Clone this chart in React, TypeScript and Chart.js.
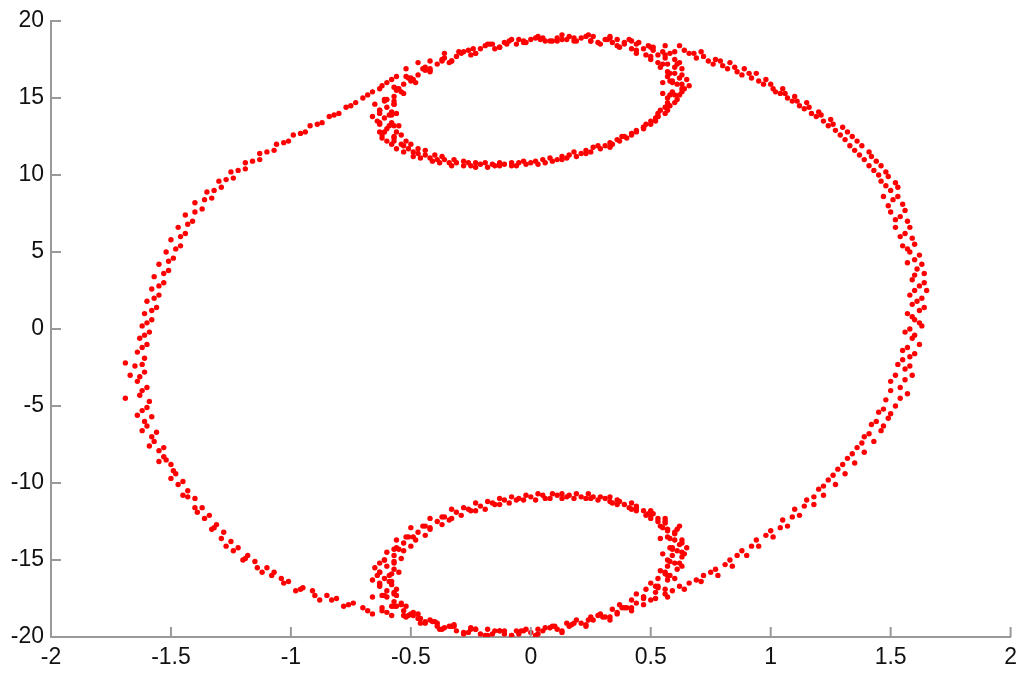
import React, { useEffect, useRef } from "react";
import { Chart, registerables } from "chart.js";

Chart.register(...registerables);

const xTicks = [-2, -1.5, -1, -0.5, 0, 0.5, 1, 1.5, 2];
const yTicks = [-20, -15, -10, -5, 0, 5, 10, 15, 20];

const outerRing: [number, number][] = [
  [-0.52,16.9],[-0.47,17.3],[-0.42,17.4],[-0.36,17.9],[-0.30,18.0],[-0.24,18.2],[-0.17,18.5],[-0.10,18.5],[-0.03,18.7],[0.04,18.8],[0.11,18.7],[0.18,18.9],[0.25,18.7],[0.32,18.8],[0.39,18.5],[0.45,18.6],[0.51,18.3],[0.56,18.4],
  [0.60,18.0],[0.62,18.4],[0.66,17.9],[0.69,17.6],[0.71,18.0],[0.74,17.4],[0.77,17.5],[0.80,17.1],[0.83,17.3],[0.86,16.7],[0.89,16.9],[0.92,16.3],[0.94,16.6],[0.97,15.9],[1.00,15.9],[1.02,15.4],[1.05,15.6],[1.07,15.0],[1.10,15.1],[1.12,14.5],[1.15,14.7],[1.17,14.0],[1.20,14.1],[1.22,13.5],[1.25,13.6],[1.27,12.9],[1.30,13.1],[1.31,12.3],[1.34,12.5],[1.35,11.6],[1.38,11.9],[1.39,11.0],[1.42,11.2],[1.43,10.3],[1.46,10.6],[1.46,9.6],[1.49,9.9],[1.50,9.0],[1.53,9.2],
  [1.47,8.6],[1.51,8.4],[1.55,8.1],[1.50,7.6],[1.54,7.3],[1.57,7.0],[1.52,6.6],[1.56,6.2],[1.59,5.9],[1.55,5.4],[1.58,5.0],[1.62,4.8],[1.57,4.3],[1.61,3.9],[1.64,3.6],[1.59,3.2],[1.62,2.8],[1.65,2.5],[1.58,2.2],[1.61,1.8],[1.64,1.4],[1.57,1.0],[1.60,0.6],[1.63,0.2],[1.56,-0.2],[1.59,-0.6],[1.62,-1.0],[1.55,-1.4],[1.58,-1.8],[1.53,-2.3],[1.56,-2.6],[1.59,-3.0],[1.50,-3.4],[1.54,-3.8],[1.57,-4.2],[1.48,-4.6],[1.52,-5.0],[1.45,-5.4],[1.49,-5.8],[1.42,-6.2],[1.46,-6.6],[1.39,-7.0],[1.43,-7.3],
  [1.36,-7.7],[1.39,-8.0],[1.32,-8.4],[1.35,-8.7],[1.28,-9.1],[1.31,-9.4],[1.24,-9.8],[1.27,-10.1],[1.20,-10.4],[1.22,-10.8],[1.15,-11.1],[1.18,-11.4],[1.10,-11.7],[1.12,-12.1],[1.05,-12.4],[1.07,-12.8],[1.00,-13.1],[1.01,-13.5],[0.94,-13.7],[0.95,-14.1],[0.88,-14.4],[0.90,-14.7],[0.83,-15.0],[0.84,-15.4],[0.77,-15.6],[0.78,-16.0],[0.72,-16.0],[0.71,-16.4],[0.66,-16.5],[0.64,-16.9],[0.59,-17.0],[0.57,-17.4],[0.52,-17.5],
  [0.47,-17.9],[0.42,-18.1],[0.36,-18.5],[0.30,-18.7],[0.24,-18.9],[0.17,-19.2],[0.10,-19.3],[0.03,-19.5],[-0.04,-19.6],[-0.11,-19.6],[-0.18,-19.5],[-0.25,-19.4],[-0.32,-19.2],[-0.39,-19.1],[-0.46,-18.8],[-0.52,-18.7],
  [-0.58,-18.6],[-0.62,-18.3],[-0.66,-18.5],[-0.70,-18.1],[-0.74,-17.8],[-0.78,-18.0],[-0.81,-17.5],[-0.85,-17.3],[-0.88,-17.6],[-0.91,-17.0],[-0.95,-16.8],[-0.98,-17.0],[-1.01,-16.4],[-1.04,-16.2],[-1.07,-15.8],[-1.10,-15.5],[-1.12,-15.8],[-1.15,-15.1],[-1.18,-14.7],[-1.20,-15.0],[-1.22,-14.2],[-1.25,-13.8],[-1.27,-14.1],[-1.28,-13.2],[-1.31,-12.7],[-1.33,-13.0],[-1.34,-12.1],[-1.37,-11.6],[-1.39,-11.9],[-1.40,-11.0],[-1.43,-10.5],[-1.45,-10.8],[-1.45,-9.9],[-1.48,-9.4],[-1.50,-9.7],[-1.50,-8.8],[-1.53,-8.3],[-1.55,-8.6],[-1.53,-7.7],[-1.57,-7.3],[-1.59,-7.6],[-1.56,-6.7],[-1.60,-6.3],[-1.62,-6.6],[-1.58,-5.7],[-1.62,-5.3],[-1.64,-5.6],[-1.59,-4.7],[-1.63,-4.3],[-1.69,-4.5],[-1.60,-3.8],[-1.64,-3.4],[-1.67,-3.0],[-1.61,-2.8],[-1.65,-2.4],[-1.69,-2.2],[-1.61,-1.9],[-1.64,-1.5],[-1.60,-1.0],[-1.63,-0.6],
  [-1.59,-0.2],[-1.62,0.2],[-1.58,0.6],[-1.61,1.0],[-1.56,1.4],[-1.60,1.8],[-1.55,2.2],[-1.58,2.6],[-1.53,3.0],[-1.57,3.4],[-1.51,3.8],[-1.55,4.2],[-1.49,4.6],[-1.52,5.0],[-1.46,5.4],[-1.50,5.8],[-1.44,6.2],[-1.47,6.6],[-1.41,7.0],[-1.44,7.4],[-1.37,7.8],[-1.40,8.2],[-1.33,8.5],[-1.35,8.9],[-1.29,9.2],[-1.30,9.6],[-1.24,9.8],[-1.25,10.2],[-1.19,10.4],[-1.19,10.8],[-1.13,11.0],[-1.13,11.4],[-1.07,11.6],[-1.06,12.0],[-1.01,12.2],[-0.99,12.6],[-0.94,12.8],[-0.92,13.2],[-0.87,13.4],[-0.84,13.8],[-0.80,14.0],[-0.77,14.4],[-0.73,14.7],[-0.70,15.0],[-0.66,15.4],[-0.63,15.6],[-0.60,16.0],[-0.56,16.4],
];

const outerRingExtra: [number, number][] = [
  [0.64,18.1],[0.68,17.9],[0.72,17.7],[0.76,17.2],[0.79,17.4],[0.82,16.9],[0.85,17.0],[0.88,16.5],[0.91,16.6],[0.95,16.1],[0.98,16.2],[1.01,15.6],[1.04,15.3],[1.06,15.3],[1.09,14.8],[1.11,14.8],[1.14,14.3],[1.16,14.4],[1.19,13.8],[1.21,13.9],[1.24,13.2],[1.26,13.3],[1.29,12.6],[1.32,12.8],[1.33,11.9],[1.36,12.2],[1.37,11.3],[1.41,11.5],[1.41,10.6],[1.44,10.9],[1.45,10.0],[1.48,10.2],[1.48,9.3],[1.52,9.5],
  [1.53,8.6],[1.49,8.0],[1.56,7.7],[1.52,7.1],[1.58,6.6],[1.54,6.0],[1.60,5.5],[1.57,5.2],[1.60,4.5],[1.63,4.2],[1.60,3.5],[1.64,3.0],[1.60,2.5],[1.63,2.0],[1.59,1.6],[1.62,1.2],[1.59,0.8],[1.62,0.4],[1.58,0.0],[1.60,-0.4],[1.57,-1.2],[1.60,-1.6],[1.55,-2.0],[1.58,-2.4],[1.52,-3.0],[1.56,-3.3],[1.50,-4.0],[1.54,-4.5],[1.47,-5.2],[1.50,-5.5],[1.44,-6.0],[1.47,-6.3],[1.41,-6.8],
  [1.38,-7.4],[1.34,-8.1],[1.30,-8.8],[1.26,-9.5],[1.22,-10.2],[1.18,-10.9],[1.14,-11.5],[1.09,-12.2],[1.04,-12.9],[0.98,-13.4],[0.92,-14.1],[0.86,-14.7],[0.81,-15.3],[0.75,-15.8],[0.69,-16.3],[0.62,-16.7],[0.56,-17.2],
  [-0.60,-18.4],[-0.68,-18.3],[-0.76,-17.9],[-0.83,-17.6],[-0.90,-17.3],[-0.96,-16.9],[-1.03,-16.5],[-1.08,-16.0],[-1.14,-15.5],[-1.19,-14.9],[-1.24,-14.4],[-1.29,-13.6],[-1.32,-12.9],[-1.36,-12.3],[-1.40,-11.6],[-1.43,-10.9],[-1.47,-10.1],[-1.49,-9.2],[-1.52,-8.5],[-1.55,-7.9],[-1.58,-7.0],[-1.61,-6.0],[-1.60,-5.1],[-1.62,-4.0],[-1.63,-3.1],[-1.62,-2.3],[-1.62,-1.2],
  [-1.61,-0.4],[-1.60,0.4],[-1.58,1.2],[-1.57,2.0],[-1.55,2.8],[-1.53,3.6],[-1.51,4.4],[-1.48,5.2],[-1.46,6.0],[-1.43,6.8],[-1.40,7.6],[-1.36,8.4],[-1.32,9.0],[-1.27,9.7],[-1.22,10.3],[-1.16,10.9],[-1.10,11.5],[-1.03,12.1],[-0.96,12.7],[-0.89,13.3],[-0.82,13.9],[-0.75,14.5],[-0.68,15.2],[-0.62,15.8],[-0.58,16.2],
];

const topLoop: [number, number][] = [
  [0.61,15.9],[0.58,16.1],[0.64,15.6],[0.60,16.6],[0.57,16.4],[0.63,16.9],[0.57,17.2],[0.54,17.0],[0.60,17.5],[0.53,17.8],[0.50,17.5],[0.55,18.0],
  [0.47,18.2],[0.44,17.9],[0.49,18.4],[0.39,18.6],[0.37,18.3],[0.41,18.8],[0.31,18.8],[0.29,18.5],[0.33,19.0],[0.21,18.9],[0.19,18.7],[0.23,19.0],
  [0.11,18.9],[0.09,18.7],[0.13,18.8],[0.00,18.8],[-0.02,18.6],[0.02,18.9],[-0.11,18.6],[-0.13,18.3],[-0.09,18.7],[-0.21,18.2],[-0.23,17.9],[-0.19,18.4],
  [-0.31,17.7],[-0.33,17.4],[-0.29,17.9],[-0.39,17.2],[-0.42,16.9],[-0.37,17.4],[-0.47,16.5],[-0.50,16.3],[-0.44,16.8],[-0.53,15.9],[-0.56,15.6],[-0.50,16.1],
  [-0.57,15.1],[-0.60,14.9],[-0.54,15.4],[-0.60,14.4],[-0.63,14.2],[-0.57,14.6],[-0.61,13.7],[-0.64,13.5],[-0.58,13.9],[-0.60,13.0],[-0.63,12.8],[-0.57,13.2],
  [-0.57,12.4],[-0.60,12.2],[-0.54,12.6],[-0.53,11.9],[-0.56,11.7],[-0.50,12.0],[-0.47,11.4],[-0.49,11.2],[-0.44,11.6],[-0.39,11.0],[-0.41,10.9],[-0.37,11.2],
  [-0.31,10.8],[-0.33,10.6],[-0.28,10.9],[-0.21,10.7],[-0.23,10.5],[-0.19,10.8],[-0.11,10.7],[-0.13,10.6],[-0.08,10.8],[0.00,10.8],[-0.02,10.7],[0.02,10.9],
  [0.11,11.0],[0.09,10.9],[0.13,11.2],[0.21,11.4],[0.19,11.2],[0.23,11.6],[0.31,11.9],[0.29,11.7],[0.33,12.1],[0.39,12.5],[0.37,12.2],[0.42,12.7],
  [0.47,13.1],[0.44,12.8],[0.50,13.3],[0.53,13.8],[0.50,13.5],[0.56,14.0],[0.57,14.5],[0.54,14.2],[0.60,14.7],[0.60,15.2],[0.57,15.0],[0.63,15.4],
  [0.62,16.3],[0.59,16.1],[0.60,17.0],[0.57,16.7],[0.56,17.6],[0.53,17.3],[0.51,18.1],[0.48,17.8],[0.44,18.5],[0.42,18.2],[0.36,18.8],[0.34,18.6],
  [0.26,19.0],[0.25,18.7],[0.16,19.0],[0.15,18.8],[0.05,18.9],[0.06,18.7],[-0.05,18.8],[-0.06,18.5],[-0.16,18.5],[-0.15,18.2],[-0.26,18.1],[-0.25,17.8],
  [-0.36,17.6],[-0.34,17.3],[-0.44,17.0],[-0.42,16.7],[-0.52,16.4],[-0.48,16.0],[-0.57,15.7],[-0.53,15.3],[-0.61,14.9],[-0.57,14.6],[-0.63,14.2],[-0.59,13.9],
  [-0.63,13.4],[-0.59,13.2],[-0.61,12.8],[-0.57,12.5],[-0.57,12.2],[-0.54,12.0],[-0.51,11.7],[-0.49,11.5],[-0.44,11.3],[-0.42,11.1],[-0.36,11.0],[-0.34,10.8],
  [-0.26,10.8],[-0.25,10.6],[-0.16,10.7],[-0.15,10.6],[-0.05,10.8],[-0.06,10.6],[0.05,11.0],[0.06,10.8],[0.16,11.3],[0.15,11.1],[0.26,11.8],[0.25,11.5],
  [0.36,12.3],[0.34,12.0],[0.44,12.9],[0.42,12.6],[0.52,13.5],[0.48,13.3],[0.57,14.2],[0.53,14.0],[0.61,14.9],[0.57,14.7],[0.63,15.6],[0.59,15.4],
  [0.65,16.2],[0.66,15.8],[0.55,16.0],[0.55,15.3],[0.62,17.3],[0.58,17.9],[-0.65,14.6],[-0.66,13.8],[-0.55,13.2],[-0.56,14.0],[-0.62,12.4],
];

const topLoopExtra: [number, number][] = [
  [0.59,16.0],[0.63,16.5],[0.58,16.6],[0.61,17.2],[0.55,17.2],[0.56,17.8],[0.50,17.7],[0.50,18.3],[0.44,18.1],[0.42,18.7],[0.36,18.4],[0.33,18.9],
  [0.28,18.6],[0.24,19.1],[0.18,18.7],[0.13,19.1],[0.08,18.7],[0.03,19.0],[-0.03,18.6],[-0.08,18.8],[-0.13,18.3],[-0.18,18.5],[-0.23,17.9],[-0.28,18.0],
  [-0.33,17.4],[-0.37,17.5],[-0.42,16.8],[-0.45,16.9],[-0.49,16.2],[-0.51,16.3],[-0.56,15.5],[-0.55,15.6],[-0.61,14.8],[-0.57,14.8],[-0.63,14.0],[-0.58,14.1],
  [-0.63,13.3],[-0.58,13.4],[-0.62,12.6],[-0.56,12.8],[-0.58,12.0],[-0.52,12.2],[-0.53,11.5],[-0.47,11.7],[-0.46,11.1],[-0.40,11.3],[-0.38,10.8],[-0.32,11.0],
  [-0.28,10.6],[-0.23,10.8],[-0.18,10.5],[-0.13,10.8],[-0.08,10.6],[-0.03,10.9],[0.03,10.7],[0.08,11.1],[0.13,11.0],[0.18,11.5],[0.23,11.4],[0.28,11.9],
  [0.33,11.8],[0.38,12.5],[0.40,12.4],[0.47,13.1],[0.47,13.0],[0.53,13.8],[0.52,13.7],[0.58,14.5],[0.56,14.4],[0.62,15.2],[0.58,15.2],[0.63,15.9],
];

const bottomLoop: [number, number][] = [
  [0.61,-14.4],[0.58,-14.2],[0.64,-14.6],[0.60,-13.7],[0.57,-13.5],[0.63,-13.9],[0.57,-13.0],[0.54,-12.8],[0.60,-13.2],[0.53,-12.3],[0.50,-12.1],[0.56,-12.5],
  [0.47,-11.8],[0.44,-11.6],[0.49,-12.0],[0.39,-11.4],[0.37,-11.2],[0.41,-11.6],[0.31,-11.0],[0.29,-10.9],[0.33,-11.2],[0.21,-10.9],[0.19,-10.7],[0.23,-11.0],
  [0.11,-10.8],[0.09,-10.7],[0.13,-11.0],[0.00,-10.9],[-0.02,-10.8],[0.02,-11.1],[-0.11,-11.1],[-0.13,-11.0],[-0.09,-11.3],[-0.21,-11.5],[-0.23,-11.3],[-0.19,-11.7],
  [-0.31,-11.9],[-0.33,-11.7],[-0.29,-12.1],[-0.39,-12.5],[-0.42,-12.3],[-0.37,-12.7],[-0.47,-13.2],[-0.50,-12.9],[-0.44,-13.4],[-0.53,-13.9],[-0.56,-13.7],[-0.50,-14.1],
  [-0.57,-14.7],[-0.60,-14.5],[-0.54,-14.9],[-0.60,-15.4],[-0.63,-15.2],[-0.57,-15.6],[-0.61,-16.2],[-0.64,-16.0],[-0.58,-16.4],[-0.60,-17.0],[-0.63,-16.7],[-0.57,-17.2],
  [-0.57,-17.7],[-0.60,-17.4],[-0.54,-17.9],[-0.53,-18.3],[-0.56,-18.0],[-0.50,-18.5],[-0.47,-18.8],[-0.49,-18.6],[-0.44,-19.0],[-0.39,-19.3],[-0.41,-19.0],[-0.37,-19.5],
  [-0.31,-19.6],[-0.33,-19.3],[-0.28,-19.7],[-0.21,-19.8],[-0.23,-19.5],[-0.19,-19.9],[-0.11,-19.8],[-0.13,-19.6],[-0.08,-19.9],[0.00,-19.7],[-0.02,-19.5],[0.02,-19.9],
  [0.11,-19.5],[0.09,-19.3],[0.13,-19.7],[0.21,-19.1],[0.19,-18.9],[0.23,-19.3],[0.31,-18.7],[0.29,-18.5],[0.33,-18.9],[0.39,-18.1],[0.37,-17.9],[0.42,-18.3],
  [0.47,-17.4],[0.44,-17.2],[0.50,-17.6],[0.53,-16.7],[0.50,-16.5],[0.56,-16.9],[0.57,-16.0],[0.54,-15.7],[0.60,-16.2],[0.60,-15.2],[0.57,-15.0],[0.63,-15.4],
  [0.62,-14.0],[0.59,-14.2],[0.60,-13.3],[0.57,-13.1],[0.56,-12.6],[0.53,-12.5],[0.51,-12.0],[0.48,-12.1],[0.44,-11.5],[0.42,-11.7],[0.36,-11.1],[0.34,-11.3],
  [0.26,-10.9],[0.25,-11.0],[0.16,-10.8],[0.15,-10.9],[0.05,-10.8],[0.06,-11.0],[-0.05,-11.0],[-0.06,-11.1],[-0.16,-11.3],[-0.15,-11.4],[-0.26,-11.7],[-0.25,-11.8],
  [-0.36,-12.2],[-0.34,-12.4],[-0.44,-12.8],[-0.42,-13.0],[-0.52,-13.5],[-0.48,-13.7],[-0.57,-14.3],[-0.53,-14.4],[-0.61,-15.0],[-0.57,-15.2],[-0.63,-15.8],[-0.59,-16.0],
  [-0.63,-16.6],[-0.59,-16.4],[-0.61,-17.3],[-0.57,-17.1],[-0.57,-18.0],[-0.54,-17.8],[-0.51,-18.6],[-0.49,-18.4],[-0.44,-19.1],[-0.42,-18.9],[-0.36,-19.4],[-0.34,-19.3],
  [-0.26,-19.7],[-0.25,-19.5],[-0.16,-19.8],[-0.15,-19.6],[-0.05,-19.8],[-0.06,-19.6],[0.05,-19.6],[0.06,-19.4],[0.16,-19.3],[0.15,-19.1],[0.26,-18.9],[0.25,-18.7],
  [0.36,-18.4],[0.34,-18.2],[0.44,-17.8],[0.42,-17.6],[0.52,-17.1],[0.48,-16.9],[0.57,-16.3],[0.53,-16.2],[0.61,-15.6],[0.57,-15.4],[0.63,-14.8],[0.59,-14.7],
  [0.65,-14.2],[0.55,-14.6],[0.54,-13.6],[0.62,-12.8],[0.56,-15.8],[-0.66,-16.3],[-0.65,-15.5],[-0.55,-15.8],[-0.56,-16.9],[-0.66,-17.4],[-0.62,-18.1],
];

const bottomLoopExtra: [number, number][] = [
  [0.59,-14.3],[0.63,-13.7],[0.58,-13.6],[0.61,-13.0],[0.55,-12.9],[0.56,-12.3],[0.50,-12.3],[0.50,-11.8],[0.44,-11.8],[0.42,-11.3],[0.36,-11.4],[0.33,-10.9],
  [0.28,-11.1],[0.24,-10.7],[0.18,-11.0],[0.13,-10.7],[0.08,-11.0],[0.03,-10.7],[-0.03,-11.1],[-0.08,-10.9],[-0.13,-11.4],[-0.18,-11.2],[-0.23,-11.8],[-0.28,-11.6],
  [-0.33,-12.3],[-0.37,-12.2],[-0.42,-12.9],[-0.45,-12.8],[-0.49,-13.5],[-0.51,-13.5],[-0.56,-14.2],[-0.55,-14.3],[-0.61,-15.0],[-0.57,-15.1],[-0.63,-15.8],[-0.58,-15.9],
  [-0.63,-16.5],[-0.58,-16.6],[-0.62,-17.3],[-0.56,-17.3],[-0.58,-18.0],[-0.52,-18.0],[-0.53,-18.6],[-0.47,-18.5],[-0.46,-19.1],[-0.40,-19.0],[-0.38,-19.5],[-0.32,-19.3],
  [-0.28,-19.8],[-0.23,-19.5],[-0.18,-19.9],[-0.13,-19.6],[-0.08,-19.9],[-0.03,-19.6],[0.03,-19.8],[0.08,-19.4],[0.13,-19.6],[0.18,-19.1],[0.23,-19.2],[0.28,-18.6],
  [0.33,-18.7],[0.38,-18.1],[0.40,-18.1],[0.47,-17.5],[0.47,-17.4],[0.53,-16.8],[0.52,-16.7],[0.58,-16.0],[0.56,-15.9],[0.62,-15.2],[0.58,-15.1],[0.63,-14.5],
];

const AXIS_COLOR = "#999999";
const POINT_COLOR = "#ff0000";

const inwardTicks = {
  id: "inwardTicks",
  afterDraw(chart: any) {
    const { ctx, chartArea, scales } = chart;
    ctx.save();
    ctx.strokeStyle = AXIS_COLOR;
    ctx.lineWidth = 2;
    ctx.beginPath();
    for (const v of xTicks) {
      const px = scales.x.getPixelForValue(v);
      ctx.moveTo(px, chartArea.bottom);
      ctx.lineTo(px, chartArea.bottom - 10);
    }
    for (const v of yTicks) {
      const py = scales.y.getPixelForValue(v);
      ctx.moveTo(chartArea.left, py);
      ctx.lineTo(chartArea.left + 10, py);
    }
    ctx.stroke();
    ctx.restore();
  },
};

const toPoints = (arr: [number, number][]) => arr.map(([x, y]) => ({ x, y }));

export default function App() {
  const ref = useRef<HTMLCanvasElement | null>(null);
  useEffect(() => {
    if (!ref.current) return;
    const ds = (label: string, data: [number, number][]) => ({
      label,
      data: toPoints(data),
      backgroundColor: POINT_COLOR,
      borderWidth: 0,
      pointRadius: 2.7,
      pointHoverRadius: 2.7,
    });
    const font = { family: "'Liberation Sans', Arial, sans-serif", size: 23 };
    const chart = new Chart(ref.current, {
      type: "scatter",
      data: {
        datasets: [
          ds("outer", outerRing),
          ds("outerExtra", outerRingExtra),
          ds("top", topLoop),
          ds("topExtra", topLoopExtra),
          ds("bottom", bottomLoop),
          ds("bottomExtra", bottomLoopExtra),
        ],
      },
      options: {
        animation: false,
        responsive: true,
        maintainAspectRatio: false,
        layout: { padding: { top: 21, right: 13, left: 0, bottom: 0 } },
        plugins: { legend: { display: false }, tooltip: { enabled: false } },
        scales: {
          x: {
            type: "linear",
            min: -2,
            max: 2,
            afterBuildTicks: (s: any) => {
              s.ticks = xTicks.map((v) => ({ value: v }));
            },
            afterFit: (s: any) => {
              s.height = 47;
            },
            ticks: {
              color: "#111111",
              font,
              padding: 7,
              maxRotation: 0,
              autoSkip: false,
              callback: (v: any) => String(v),
            },
            grid: { drawOnChartArea: false, drawTicks: false },
            border: { display: true, color: AXIS_COLOR, width: 2 },
          },
          y: {
            type: "linear",
            min: -20,
            max: 20,
            afterBuildTicks: (s: any) => {
              s.ticks = yTicks.map((v) => ({ value: v }));
            },
            afterFit: (s: any) => {
              s.width = 51;
            },
            ticks: {
              color: "#111111",
              font,
              padding: 7,
              autoSkip: false,
              callback: (v: any) => String(v),
            },
            grid: { drawOnChartArea: false, drawTicks: false },
            border: { display: true, color: AXIS_COLOR, width: 2 },
          },
        },
      },
      plugins: [inwardTicks],
    });
    return () => chart.destroy();
  }, []);
  return (
    <div style={{ position: "fixed", left: 0, top: 0, width: 1024, height: 684, background: "#fff" }}>
      <canvas ref={ref} />
    </div>
  );
}
